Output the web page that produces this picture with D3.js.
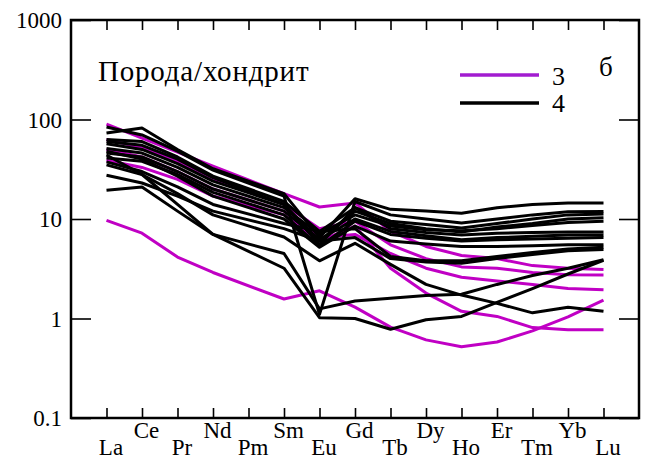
<!DOCTYPE html>
<html>
<head>
<meta charset="utf-8">
<script src="https://cdn.jsdelivr.net/npm/d3@7"></script>
<style>
  body { margin: 0; background: #fff; }
</style>
</head>
<body>
<svg id="chart" width="647" height="464"></svg>
<script>
// REE, chondrite normalised; Pm not measured (null)
var elements = ["La", "Ce", "Pr", "Nd", "Pm", "Sm", "Eu", "Gd", "Tb", "Dy", "Ho", "Er", "Tm", "Yb", "Lu"];
var yTicks = [0.1, 1, 10, 100, 1000];
var yTickLabels = ["0.1", "1", "10", "100", "1000"];

// group 3 (purple)
var group3 = [
  [90, 65, 47, 34, null, 18, 13.2, 14.5, 7.5, 5.3, 4.3, 4.0, 3.4, 3.2, 3.1],
  [63, 52, 38, 25, null, 14, 8, 9.5, 5.5, 4.0, 3.3, 3.2, 2.9, 2.75, 2.74],
  [50, 42, 30, 20, null, 12, 6.5, 7, 4.5, 3.2, 2.6, 2.38, 2.2, 2.0, 1.95],
  [39, 33, 25, 17, null, 11, 6, 8.5, 3.2, 1.8, 1.18, 1.05, 0.81, 0.77, 0.77],
  [9.7, 7.2, 4.15, 2.9, null, 1.57, 1.9, 1.3, 0.82, 0.61, 0.52, 0.58, 0.75, 1.04, 1.53]
];

// group 4 (black)
var group4 = [
  [73, 82, 50, 32, null, 18, 6.5, 16, 12.5, 12, 11.4, 13, 14, 14.5, 14.5],
  [84, 70, 48, 31, null, 17, 1.1, 15, 11, 10, 9.1, 10, 11, 11.8, 11.9],
  [63, 60, 42, 27, null, 15, 7.5, 13, 9.5, 8.8, 8.1, 9, 10, 11, 11.2],
  [57, 50, 36, 24, null, 14, 6, 12, 9, 8, 7.4, 8.3, 9, 10, 10.3],
  [51, 46, 33, 22, null, 13, 7, 11, 8.5, 7.8, 7.6, 8, 8.6, 9.2, 9.5],
  [60, 55, 40, 26, null, 14, 5.5, 13, 8, 7.3, 6.9, 7.2, 7.3, 7.4, 7.4],
  [46, 42, 30, 20, null, 12, 6.2, 10, 7.5, 6.8, 6.2, 6.5, 6.7, 6.9, 6.9],
  [41, 38, 28, 18.5, null, 11, 5.3, 9.5, 7, 6.4, 6.0, 6.2, 6.3, 6.4, 6.5],
  [48, 40, 27, 17, null, 10, 5.2, 8.5, 6, 5.6, 5.3, 5.3, 5.4, 5.5, 5.5],
  [37.5, 30, 21, 14, null, 9, 7.5, 8, 4.2, 3.8, 3.8, 4.2, 4.6, 5.0, 5.2],
  [27.5, 23, 17, 12, null, 8, 6, 6.5, 4.0, 3.7, 3.6, 4.0, 4.4, 4.8, 4.95],
  [35, 28, 18, 11, null, 6.6, 3.8, 5.7, 3.5, 2.2, 1.72, 1.42, 1.14, 1.3, 1.18],
  [19.5, 21, 12, 7, null, 4.5, 1.25, 1.5, 1.6, 1.7, 1.75, 2.2, 2.7, 3.2, 3.9],
  [44, 28, 14, 7, null, 3.2, 1.02, 1.0, 0.78, 0.97, 1.05, 1.45, 2.0, 2.8, 3.85]
];

var legendLabels = ["3", "4"];
var purple = "#c000c4", legendPurple = "#a21cd0";
var FONT = "'Liberation Serif', 'Times New Roman', 'DejaVu Serif', serif";

var svg = d3.select("#chart"),
    MARGINS = { top: 20, right: 8, bottom: 46, left: 71 },
    WIDTH = 647, HEIGHT = 464;

var x = d3.scaleLinear().domain([0, elements.length + 1])
    .range([MARGINS.left, WIDTH - MARGINS.right]);
var y = d3.scaleLog().domain([0.1, 1000])
    .range([HEIGHT - MARGINS.bottom, MARGINS.top]);

var line = d3.line()
    .x(function (d) { return x(d.i + 1); })
    .y(function (d) { return y(d.v); });

function pts(row) {
  return row.map(function (v, i) { return { i: i, v: v }; })
            .filter(function (d) { return d.v != null; });
}

svg.append("g").selectAll("path").data(group3).enter().append("path")
    .attr("d", function (r) { return line(pts(r)); })
    .attr("fill", "none").attr("stroke", purple).attr("stroke-width", 3)
    .attr("stroke-linejoin", "round");

svg.append("g").selectAll("path").data(group4).enter().append("path")
    .attr("d", function (r) { return line(pts(r)); })
    .attr("fill", "none").attr("stroke", "#000").attr("stroke-width", 3)
    .attr("stroke-linejoin", "round");

// axes: ticks drawn inward
var x0 = x.range()[0], x1 = x.range()[1], y0 = y.range()[0], y1 = y.range()[1];
var idx = d3.range(1, elements.length + 1);

svg.append("g").attr("transform", "translate(0," + y0 + ")")
    .call(d3.axisBottom(x).tickValues(idx).tickSize(-10).tickFormat(""))
    .call(function (g) { g.select(".domain").remove(); });
svg.append("g").attr("transform", "translate(0," + y1 + ")")
    .call(d3.axisTop(x).tickValues(idx).tickSize(-10).tickFormat(""))
    .call(function (g) { g.select(".domain").remove(); });
svg.append("g").attr("transform", "translate(" + x0 + ",0)")
    .call(d3.axisLeft(y).tickValues(yTicks).tickSize(-20).tickFormat(""))
    .call(function (g) { g.select(".domain").remove(); });
svg.append("g").attr("transform", "translate(" + x1 + ",0)")
    .call(d3.axisRight(y).tickValues(yTicks).tickSize(-20).tickFormat(""))
    .call(function (g) { g.select(".domain").remove(); });
svg.selectAll(".tick line").attr("stroke", "#000").attr("stroke-width", 1.6);

svg.append("rect").attr("x", x0).attr("y", y1)
    .attr("width", x1 - x0).attr("height", y0 - y1)
    .attr("fill", "none").attr("stroke", "#000").attr("stroke-width", 2.5);

svg.append("g").selectAll("text").data(yTicks).enter().append("text")
    .attr("x", x0 - 9).attr("y", function (d) { return y(d) + 8; })
    .attr("text-anchor", "end").attr("font-size", 23).attr("font-family", FONT)
    .text(function (d, i) { return yTickLabels[i]; });

svg.append("g").selectAll("text").data(elements).enter().append("text")
    .attr("x", function (d, i) { return x(i + 1) + 4.5; })
    .attr("y", function (d, i) { return i % 2 === 0 ? 455 : 438; })
    .attr("text-anchor", "middle").attr("font-size", 23).attr("font-family", FONT)
    .text(function (d) { return d; });

svg.append("text").attr("x", 98).attr("y", 81).attr("font-size", 29)
    .attr("letter-spacing", 0.8)
    .attr("font-family", FONT).text("Порода/хондрит");

// legend
var legendColors = [legendPurple, "#000"];
var lg = svg.append("g");
lg.selectAll("line").data(legendLabels).enter().append("line")
    .attr("x1", 460).attr("x2", 539)
    .attr("y1", function (d, i) { return 75 + i * 28; })
    .attr("y2", function (d, i) { return 75 + i * 28; })
    .attr("stroke", function (d, i) { return legendColors[i]; })
    .attr("stroke-width", 3.5);
lg.selectAll("text").data(legendLabels).enter().append("text")
    .attr("x", 552).attr("y", function (d, i) { return 85 + i * 27; })
    .attr("font-size", 26).attr("font-family", FONT)
    .text(function (d) { return d; });

svg.append("text").attr("x", 599).attr("y", 76).attr("font-size", 27)
    .attr("font-family", FONT).text("б");
</script>
</body>
</html>
